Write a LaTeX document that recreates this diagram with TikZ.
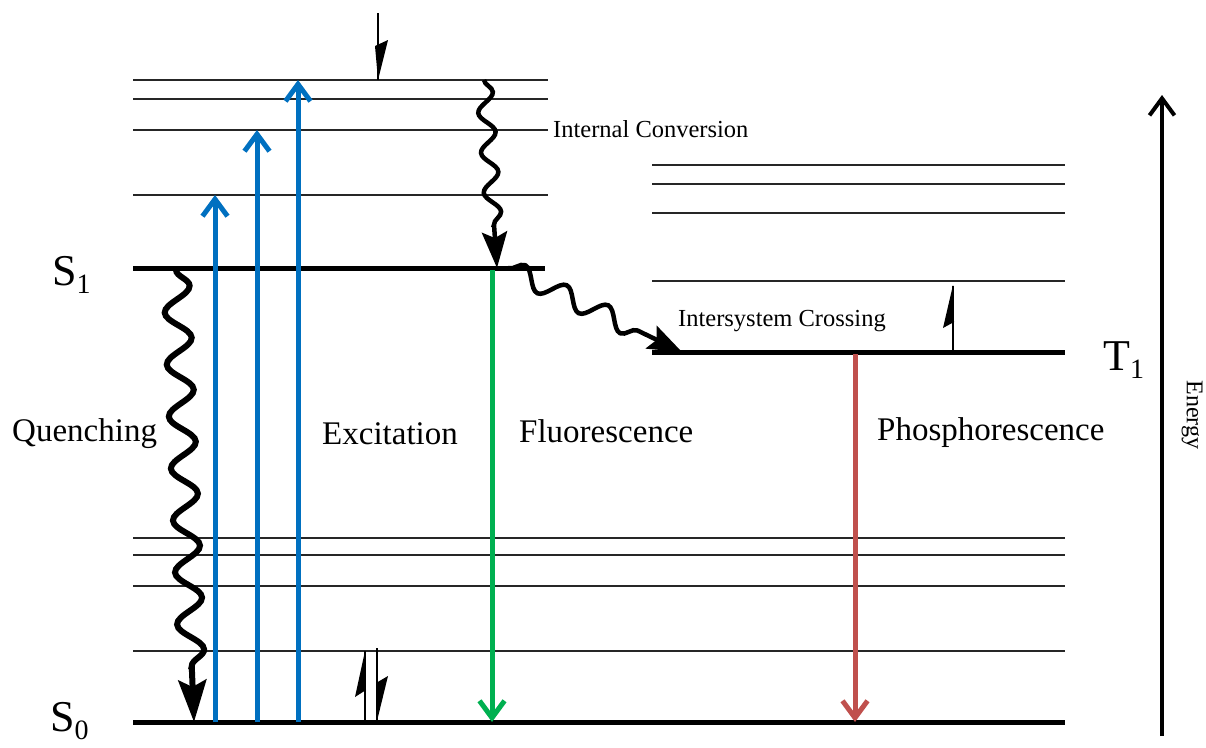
\documentclass[tikz,border=0pt]{standalone}
\usepackage{fontspec}
\setmainfont{Liberation Serif}
\usetikzlibrary{arrows.meta,decorations.pathmorphing}
\definecolor{excblue}{HTML}{0070C0}
\definecolor{fluogreen}{HTML}{00B050}
\definecolor{phosred}{HTML}{C0504D}
\newcommand{\statelabel}[2]{{\fontsize{44}{48}\selectfont #1}\raisebox{-8pt}{\fontsize{28}{30}\selectfont #2}}
\begin{document}
\begin{tikzpicture}[x=1pt,y=-1pt,
  every node/.style={inner sep=0pt,font=\fontsize{33}{38}\selectfont},
  level/.style={line width=5pt},
  vib/.style={line width=1.5pt,black!85},
  radiative/.style={line width=5pt,-{Straight Barb[length=17pt,width=25pt]}},
  wavy/.style={line width=5pt,decorate},
  bighead/.style={-{Stealth[length=42pt,width=28pt,inset=7pt]}}]
  \useasboundingbox (0,0) rectangle (1206,747);
  % states
  \coordinate (s0L) at (133,722); \coordinate (s0R) at (1065,722);
  \coordinate (s1L) at (133,268); \coordinate (s1R) at (545,268);
  \coordinate (t1L) at (652,352); \coordinate (t1R) at (1065,352);
  % vibrational levels of S1
  \draw[vib] (133,80) -- (548,80);
  \draw[vib] (133,99) -- (548,99);
  \draw[vib] (133,130) -- (548,130);
  \draw[vib] (133,195) -- (548,195);
  % vibrational levels of T1
  \draw[vib] (652,165) -- (1065,165);
  \draw[vib] (652,184) -- (1065,184);
  \draw[vib] (652,213) -- (1065,213);
  \draw[vib] (652,281) -- (1065,281);
  % vibrational levels of S0
  \draw[vib] (133,538) -- (1065,538);
  \draw[vib] (133,555) -- (1065,555);
  \draw[vib] (133,586) -- (1065,586);
  \draw[vib] (133,651) -- (1065,651);
  \draw[level] (s0L) -- (s0R);
  \draw[level] (s1L) -- (s1R);
  \draw[level] (t1L) -- (t1R);
  \node[anchor=base west] (s1) at (52,285) {\statelabel{S}{1}};
  \node[anchor=base west] (s0) at (50,731) {\statelabel{S}{0}};
  \node[anchor=base west] (t1) at (1103,370) {\statelabel{T}{1}};
  % excitation
  \coordinate (ex1) at (215,722); \coordinate (ex1t) at (215,195);
  \coordinate (ex2) at (257,722); \coordinate (ex2t) at (257,130);
  \coordinate (ex3) at (298,722); \coordinate (ex3t) at (298,80);
  \draw[radiative,excblue] (ex1) -- (ex1t);
  \draw[radiative,excblue] (ex2) -- (ex2t);
  \draw[radiative,excblue] (ex3) -- (ex3t);
  % fluorescence and phosphorescence
  \coordinate (fl) at (492,270); \coordinate (flt) at (492,722);
  \coordinate (ph) at (855,354); \coordinate (pht) at (855,722);
  \draw[radiative,fluogreen] (fl) -- (flt);
  \draw[radiative,phosred] (ph) -- (pht);
  % non-radiative
  \coordinate (qu) at (176,270); \coordinate (qut) at (194,722);
  \draw[wavy,bighead,line width=6pt,decoration={snake,amplitude=13pt,segment length=52pt,post length=55pt}] (qu) -- (qut);
  \coordinate (ic) at (484,80); \coordinate (ict) at (497,268);
  \draw[wavy,line width=4.5pt,-{Stealth[length=36pt,width=25pt,inset=6pt]},decoration={snake,amplitude=8pt,segment length=40pt,post length=40pt}] (ic) -- (ict);
  \coordinate (isc) at (508,268); \coordinate (isct) at (682,352);
  \draw[wavy,line width=4.5pt,-{Stealth[length=34pt,width=25pt,inset=6pt]},decoration={snake,amplitude=10pt,segment length=46pt,post length=38pt}] (isc) -- (isct);
  % spins
  \draw[line width=1.6pt] (378,13) -- (378,80);
  \fill (378,80) -- (375,46) -- (388,40) -- cycle;
  \draw[line width=1.6pt] (953,286) -- (953,352);
  \fill (953,285) -- (943,328) -- (954,322) -- cycle;
  \draw[line width=1.6pt] (365,651) -- (365,722);
  \fill (365,651) -- (355,697) -- (366,690) -- cycle;
  \draw[line width=1.6pt] (377,648) -- (377,722);
  \fill (377,721) -- (376,683) -- (388,676) -- cycle;
  % energy axis
  \coordinate (en) at (1162,736); \coordinate (ent) at (1162,95);
  \draw[line width=4pt,-{Straight Barb[length=17pt,width=25pt]}] (en) -- (ent);
  \node[rotate=-90] (energy) at (1192,415) {\fontsize{24}{28}\selectfont Energy};
  % labels
  \node[anchor=base west] (quench) at (12,441) {Quenching};
  \node[anchor=base west] (excit) at (322,444) {Excitation};
  \node[anchor=base west] (fluo) at (519,442) {Fluorescence};
  \node[anchor=base west] (phos) at (877,440) {Phosphorescence};
  \node[anchor=base west,font=\fontsize{24.5}{28}\selectfont] (intconv) at (553,137) {Internal Conversion};
  \node[anchor=base west,font=\fontsize{24.5}{28}\selectfont] (isclbl) at (678,326) {Intersystem Crossing};
\end{tikzpicture}
\end{document}
